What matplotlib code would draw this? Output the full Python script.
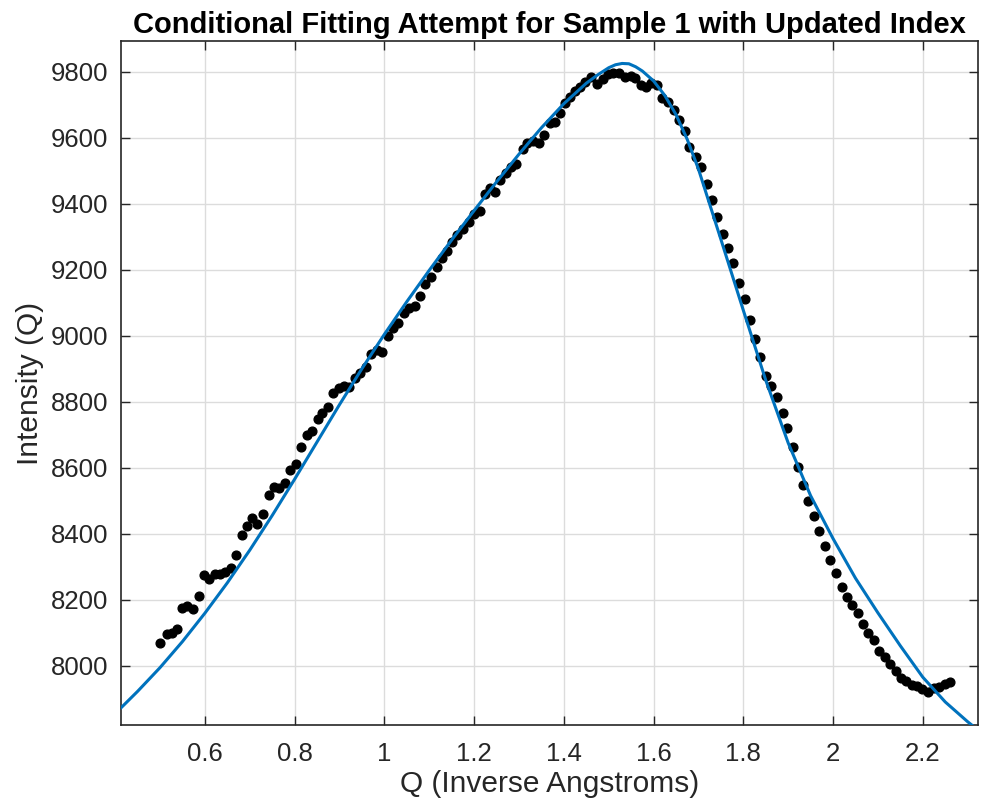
import matplotlib
matplotlib.use("Agg")
from matplotlib import pyplot as plt
from matplotlib.ticker import FuncFormatter

plt.rcParams['font.family'] = ['Liberation Sans', 'DejaVu Sans']

# measured points (Q, intensity)
q_data = [0.500, 0.515, 0.526, 0.537, 0.549, 0.561, 0.574, 0.586, 0.598, 0.610,
          0.622, 0.633, 0.645, 0.658, 0.670, 0.682, 0.694, 0.705, 0.717, 0.730,
          0.743, 0.754, 0.766, 0.779, 0.790, 0.802, 0.815, 0.827, 0.838, 0.851,
          0.862, 0.874, 0.886, 0.898, 0.910, 0.922, 0.935, 0.946, 0.959, 0.971,
          0.983, 0.994, 1.007, 1.020, 1.031, 1.044, 1.056, 1.069, 1.080, 1.091,
          1.104, 1.117, 1.128, 1.139, 1.151, 1.163, 1.175, 1.188, 1.200, 1.213,
          1.224, 1.235, 1.246, 1.257, 1.270, 1.283, 1.294, 1.308, 1.319, 1.332,
          1.345, 1.355, 1.369, 1.380, 1.391, 1.402, 1.413, 1.424, 1.435, 1.448,
          1.461, 1.474, 1.488, 1.499, 1.510, 1.523, 1.536, 1.549, 1.558, 1.573,
          1.584, 1.595, 1.608, 1.619, 1.632, 1.645, 1.657, 1.669, 1.680, 1.694,
          1.705, 1.718, 1.730, 1.742, 1.754, 1.766, 1.777, 1.791, 1.804, 1.815,
          1.826, 1.837, 1.851, 1.861, 1.874, 1.888, 1.898, 1.910, 1.921, 1.932,
          1.945, 1.957, 1.969, 1.982, 1.994, 2.006, 2.019, 2.030, 2.043, 2.055,
          2.067, 2.078, 2.092, 2.103, 2.116, 2.127, 2.140, 2.151, 2.163, 2.176,
          2.187, 2.198, 2.211, 2.224, 2.237, 2.250, 2.260]
i_data = [8070, 8095, 8098, 8111, 8176, 8182, 8172, 8211, 8275, 8262,
          8277, 8277, 8284, 8295, 8334, 8396, 8424, 8448, 8428, 8459,
          8517, 8540, 8538, 8552, 8592, 8612, 8664, 8699, 8711, 8747,
          8765, 8785, 8825, 8840, 8848, 8843, 8871, 8886, 8904, 8944,
          8957, 8952, 8999, 9022, 9039, 9068, 9083, 9090, 9121, 9157,
          9179, 9207, 9234, 9257, 9284, 9305, 9323, 9345, 9370, 9378,
          9428, 9448, 9436, 9472, 9492, 9512, 9520, 9565, 9583, 9591,
          9583, 9608, 9644, 9648, 9674, 9704, 9724, 9742, 9754, 9770,
          9783, 9763, 9777, 9793, 9795, 9797, 9785, 9787, 9782, 9760,
          9753, 9765, 9760, 9719, 9709, 9684, 9653, 9621, 9573, 9542,
          9512, 9460, 9411, 9361, 9307, 9267, 9221, 9161, 9111, 9048,
          8990, 8936, 8879, 8847, 8815, 8767, 8719, 8662, 8603, 8546,
          8500, 8455, 8408, 8363, 8320, 8282, 8239, 8207, 8184, 8161,
          8126, 8098, 8078, 8045, 8027, 8005, 7985, 7964, 7952, 7942,
          7939, 7929, 7919, 7932, 7936, 7945, 7949]

# fitted curve
q_fit = [0.413, 0.45, 0.5, 0.55, 0.6, 0.65, 0.7, 0.75, 0.8, 0.85, 0.9, 0.95,
         1.0, 1.05, 1.1, 1.15, 1.2, 1.25, 1.3, 1.35, 1.4, 1.45, 1.475, 1.5,
         1.515, 1.53, 1.545, 1.56, 1.575, 1.6, 1.625, 1.65, 1.675, 1.7, 1.75,
         1.8, 1.85, 1.9, 1.95, 2.0, 2.05, 2.1, 2.15, 2.2, 2.25, 2.3, 2.323]
i_fit = [7872, 7922, 7994, 8073, 8159, 8251, 8350, 8455, 8565, 8678, 8791, 8900,
         9004, 9103, 9198, 9290, 9379, 9466, 9550, 9630, 9703, 9765, 9790, 9812,
         9821, 9825, 9824, 9815, 9802, 9772, 9728, 9670, 9595, 9505, 9292,
         9077, 8865, 8675, 8515, 8385, 8265, 8160, 8060, 7965, 7890, 7830, 7805]

xticks = [0.6, 0.8, 1.0, 1.2, 1.4, 1.6, 1.8, 2.0, 2.2]
yticks = [8000, 8200, 8400, 8600, 8800, 9000, 9200, 9400, 9600, 9800]

txt = '#262626'

fig = plt.figure(figsize=(9.82, 8.09), dpi=100)
ax = fig.add_axes([0.1232, 0.1038, 0.8727, 0.8455])

ax.plot(q_data, i_data, 'o', color='black', ms=6.3, mec='black', zorder=3)
ax.plot(q_fit, i_fit, '-', color='#0072BD', linewidth=2.2, zorder=4)

ax.set_xlim(0.413, 2.323)
ax.set_ylim(7820, 9893)
ax.set_xticks(xticks)
ax.set_yticks(yticks)
ax.xaxis.set_major_formatter(FuncFormatter(lambda v, p: '%g' % v))
ax.tick_params(direction='in', length=6.5, width=1.0, top=True, right=True,
               labelsize=18.5, colors=txt)
ax.tick_params(axis='x', pad=12)
ax.tick_params(axis='y', pad=9)
ax.grid(True, color='#dcdcdc', linewidth=1.0)
ax.set_axisbelow(True)
for s in ax.spines.values():
    s.set_linewidth(1.2)
    s.set_color(txt)

ax.set_xlabel("Q (Inverse Angstroms)", fontsize=21.5, color=txt, labelpad=3)
ax.set_ylabel("Intensity (Q)", fontsize=21.5, color=txt, labelpad=5)
ax.set_title("Conditional Fitting Attempt for Sample 1 with Updated Index",
             fontsize=21, fontweight='bold', color='black', pad=6)

fig.savefig("out.png", dpi=100)
